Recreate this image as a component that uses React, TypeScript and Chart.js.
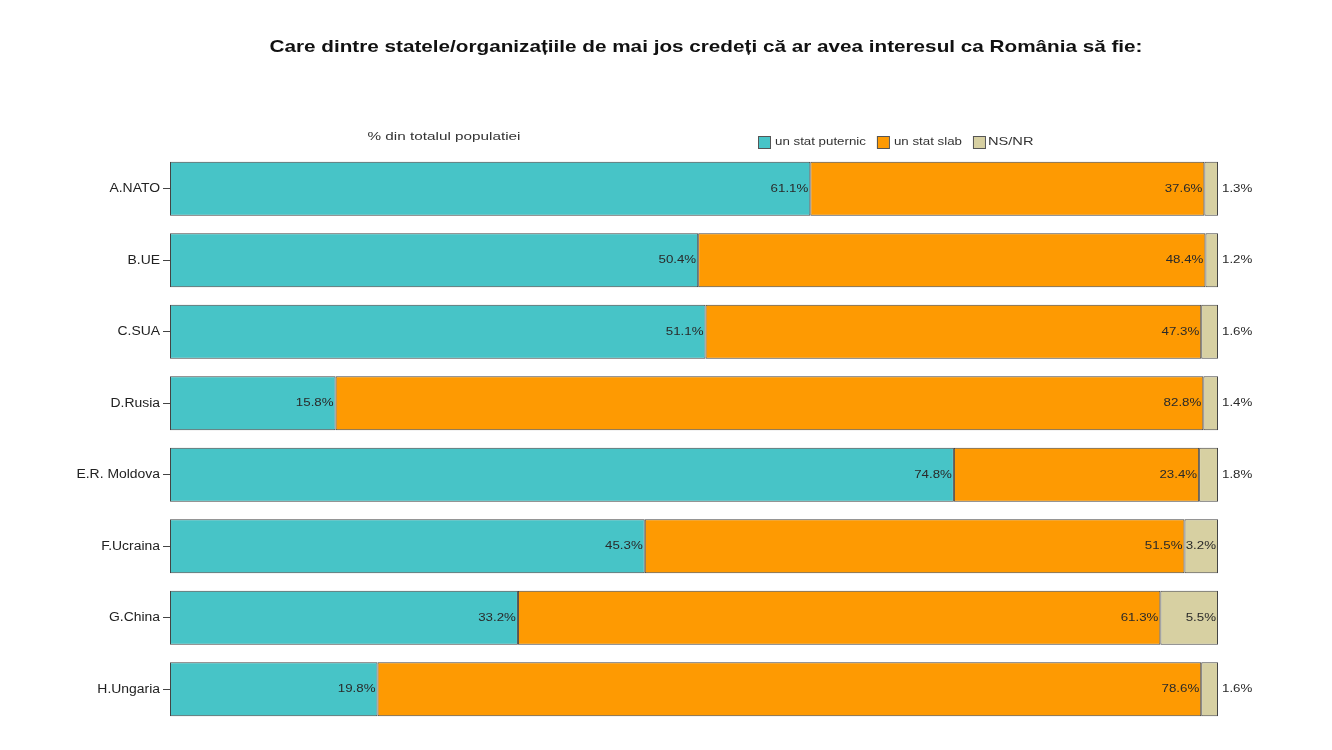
import React, { useEffect, useRef } from "react";
import { Chart, registerables } from "chart.js";

Chart.register(...registerables);

const categories = ["A.NATO", "B.UE", "C.SUA", "D.Rusia", "E.R. Moldova", "F.Ucraina", "G.China", "H.Ungaria"];
const strongValues = [61.1, 50.4, 51.1, 15.8, 74.8, 45.3, 33.2, 19.8];
const weakValues = [37.6, 48.4, 47.3, 82.8, 23.4, 51.5, 61.3, 78.6];
const dkValues = [1.3, 1.2, 1.6, 1.4, 1.8, 3.2, 5.5, 1.6];
const seriesNames = ["un stat puternic", "un stat slab", "NS/NR"];
const seriesColors = ["#47C4C7", "#FE9A02", "#D7D0A2"];

const TITLE = "Care dintre statele/organizațiile de mai jos credeți că ar avea interesul ca România să fie:";
const SUBTITLE = "% din totalul populatiei";
const FONT = "'Liberation Sans', Arial, sans-serif";
const SX = 1.33;

function stretchText(ctx: any, text: string, x: number, y: number, align: string, sx: number) {
  const w = ctx.measureText(text).width * sx;
  let left = x;
  if (align === "right") left = x - w;
  else if (align === "center") left = x - w / 2;
  ctx.save();
  ctx.textAlign = "left";
  ctx.translate(left, y);
  ctx.scale(sx, 1);
  ctx.fillText(text, 0, 0);
  ctx.restore();
  return w;
}

const overlayPlugin = {
  id: "overlay",
  afterDatasetsDraw(chart: any) {
    const ctx = chart.ctx;
    ctx.save();
    ctx.font = `10px ${FONT}`;
    ctx.textBaseline = "middle";
    ctx.fillStyle = "#2a2a2a";
    chart.data.datasets.forEach((ds: any, di: number) => {
      const meta = chart.getDatasetMeta(di);
      meta.data.forEach((bar: any, i: number) => {
        const v = ds.data[i];
        const label = v.toFixed(1) + "%";
        if (di === 2 && v < 3) {
          stretchText(ctx, label, bar.x + 4, bar.y, "left", SX);
        } else {
          stretchText(ctx, label, bar.x - 2, bar.y, "right", SX);
        }
      });
    });
    ctx.restore();
  },
  afterDraw(chart: any) {
    const ctx = chart.ctx;
    ctx.save();
    ctx.textBaseline = "middle";
    // category labels
    const yScale = chart.scales.y;
    ctx.font = `12px ${FONT}`;
    ctx.fillStyle = "#222";
    yScale.ticks.forEach((t: any, i: number) => {
      const y = yScale.getPixelForTick(i);
      stretchText(ctx, chart.data.labels[t.value], yScale.right - 10, y, "right", 1.16);
    });
    // title
    ctx.fillStyle = "#111";
    ctx.font = `bold 17px ${FONT}`;
    const tw = ctx.measureText(TITLE).width;
    stretchText(ctx, TITLE, 706, 47, "center", 873 / tw);
    // subtitle
    ctx.font = `11px ${FONT}`;
    ctx.fillStyle = "#333";
    const sw = ctx.measureText(SUBTITLE).width;
    stretchText(ctx, SUBTITLE, 444, 137, "center", 153 / sw);
    // legend
    let x = 758;
    const ly = 142;
    seriesNames.forEach((name, i) => {
      ctx.font = i === 2 ? `11px ${FONT}` : `10px ${FONT}`;
      ctx.fillStyle = seriesColors[i];
      ctx.fillRect(x, ly - 6, 12, 12);
      ctx.strokeStyle = "#555";
      ctx.lineWidth = 1;
      ctx.strokeRect(x + 0.5, ly - 5.5, 12, 12);
      ctx.fillStyle = "#333";
      const off = i === 2 ? 15 : 17;
      const w = stretchText(ctx, name, x + off, ly, "left", SX);
      x += off + w + 11;
    });
    ctx.restore();
  },
};

export default function App() {
  const ref = useRef<HTMLCanvasElement>(null);
  useEffect(() => {
    document.body.style.margin = "0";
    const chart = new Chart(ref.current!, {
      type: "bar",
      data: {
        labels: categories,
        datasets: [strongValues, weakValues, dkValues].map((d, i) => ({
          label: seriesNames[i],
          data: d,
          backgroundColor: seriesColors[i],
          borderColor: "#444",
          borderWidth: 1,
          borderSkipped: false,
          barPercentage: 0.755,
          categoryPercentage: 1,
        })),
      },
      options: {
        indexAxis: "y",
        animation: false,
        responsive: false,
        maintainAspectRatio: false,
        layout: { padding: { top: 153, right: 114, bottom: 25, left: 0 } },
        plugins: { legend: { display: false }, title: { display: false }, tooltip: { enabled: false } },
        scales: {
          x: { stacked: true, min: 0, max: 100, display: false },
          y: {
            stacked: true,
            afterFit: (scale: any) => { scale.width = 170; },
            border: { display: false },
            grid: { drawOnChartArea: false, drawTicks: true, tickLength: 7, offset: false, color: "#444", lineWidth: 1 },
            ticks: { color: "rgba(0,0,0,0)", font: { family: FONT, size: 12 }, padding: 2 },
          },
        },
      },
      plugins: [overlayPlugin],
    });
    return () => chart.destroy();
  }, []);
  return (
    <div style={{ width: 1332, height: 750, background: "#fff" }}>
      <canvas ref={ref} width={1332} height={750} style={{ display: "block" }} />
    </div>
  );
}
